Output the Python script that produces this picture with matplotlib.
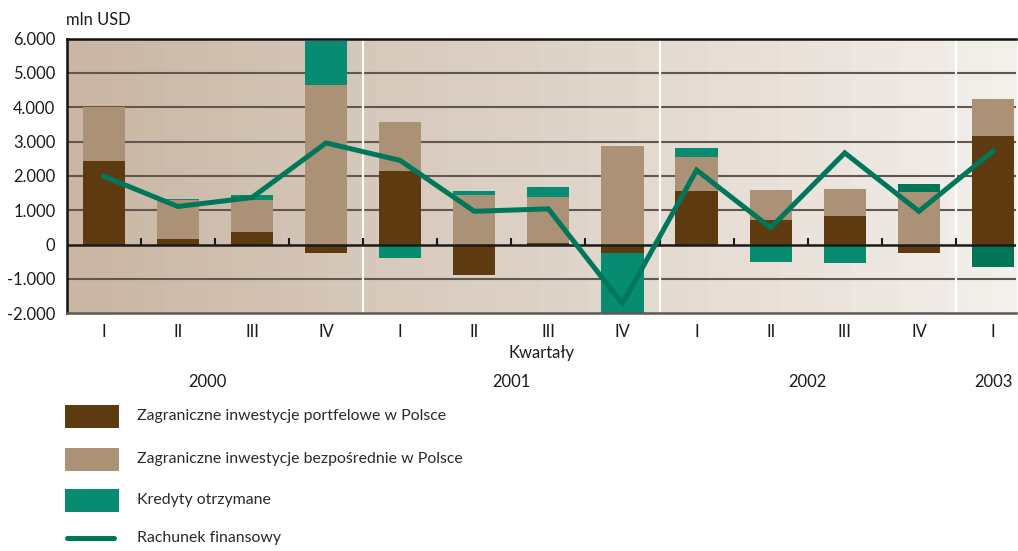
import numpy as np
import matplotlib
matplotlib.use("Agg")
import matplotlib.pyplot as plt
from matplotlib.patches import Rectangle
from matplotlib.lines import Line2D
import matplotlib.transforms as mtransforms

plt.rcParams["font.family"] = ["Lato", "DejaVu Sans"]

# dane (mln USD)
kwartaly = ["I", "II", "III", "IV", "I", "II", "III", "IV", "I", "II", "III", "IV", "I"]
lata = ["2000", "2001", "2002", "2003"]
lata_x = [1.4, 5.5, 9.5, 12.0]
portfelowe = [2420, 150, 380, -230, 2130, -880, 60, -230, 1550, 730, 820, -250, 3150]
bezposrednie = [1580, 1160, 930, 4640, 1430, 1430, 1340, 2860, 990, 870, 810, 1520, 1080]
kredyty = [-20, 30, 120, 1280, -400, 140, 290, -1900, 260, -520, -550, 230, -660]
rachunek = [1990, 1110, 1370, 2960, 2450, 970, 1040, -1720, 2170, 490, 2670, 970, 2720]

C_PORT = "#5e3a11"
C_BEZP = "#ab9175"
C_KRED = "#078c72"
C_KRED2 = "#007656"
C_LINIA = "#00765a"
C_TXT = "#1e1b1a"
FS = 11.9

fig = plt.figure(figsize=(10.18, 5.51), dpi=100)
ax = fig.add_axes([0.0655, 0.4314, 0.9325, 0.4987])
x = np.arange(len(kwartaly))
ax.set_xlim(-0.5, 12.31)
ax.set_ylim(-2000, 6000)

# tlo z gradientem (pasy)
n = 40
grad = np.linspace(0, 1, n).reshape(1, -1)
c0 = np.array([0xc9, 0xb6, 0xa4]) / 255
c1 = np.array([0xf3, 0xef, 0xeb]) / 255
img = c0[None, None, :] * (1 - grad[..., None]) + c1[None, None, :] * grad[..., None]
ax.imshow(img, extent=(-0.5, 12.31, -2000, 6000), aspect="auto", zorder=0,
          interpolation="nearest")

for yv in range(-1000, 6001, 1000):
    if yv != 0:
        ax.axhline(yv, color="#62574f", lw=1.5, zorder=1)
for xs in [3.5, 7.5, 11.5]:
    ax.axvline(xs, color="white", lw=1.6, zorder=1)

# slupki skumulowane osobno dla dodatnich i ujemnych
w = 0.57
pos = np.zeros(len(x))
neg = np.zeros(len(x))
kolory_kred = [C_KRED] * 11 + [C_KRED2, C_KRED2]
for vals, cols in [(portfelowe, [C_PORT] * len(x)), (bezposrednie, [C_BEZP] * len(x)),
                   (kredyty, kolory_kred)]:
    v = np.array(vals, dtype=float)
    base = np.where(v >= 0, pos, neg)
    ax.bar(x, v, w, bottom=base, color=cols, zorder=2, linewidth=0)
    pos = pos + np.where(v >= 0, v, 0)
    neg = neg + np.where(v < 0, v, 0)

ax.axhline(0, color="#1a1a1a", lw=1.8, zorder=3)
ax.vlines(x[:-1] + 0.5, 0, 200, color="#1a1a1a", lw=1.5, zorder=3)

ax.plot(x, rachunek, color=C_LINIA, lw=3.6, zorder=4, solid_joinstyle="miter")

ax.set_yticks(range(-2000, 6001, 1000))
ax.set_yticklabels([f"{v:,}".replace(",", ".") for v in range(-2000, 6001, 1000)])
ax.set_xticks(x)
ax.set_xticklabels(kwartaly)
ax.tick_params(axis="both", length=0, labelsize=FS, colors=C_TXT)
ax.tick_params(axis="y", pad=8)
ax.tick_params(axis="x", pad=8)
ax.spines["right"].set_visible(False)
ax.spines["top"].set_color("#111111")
ax.spines["top"].set_linewidth(1.8)
ax.spines["left"].set_color("#111111")
ax.spines["left"].set_linewidth(1.8)
ax.spines["bottom"].set_color("#62574f")
ax.spines["bottom"].set_linewidth(1.8)

tr = mtransforms.blended_transform_factory(ax.transData, ax.transAxes)
ax.text(0.5, -0.144, "Kwartały", transform=ax.transAxes, ha="center", va="center",
        fontsize=FS, color=C_TXT)
for lx, rok in zip(lata_x, lata):
    ax.text(lx, -0.25, rok, transform=tr, ha="center", va="center",
            fontsize=FS, color=C_TXT)

fig.text(66 / 1018, 1 - 20 / 551, "mln USD", ha="left", va="center",
         fontsize=FS, color=C_TXT)

# legenda
lg = fig.add_axes([0, 0, 1, 1], facecolor="none")
lg.set_xlim(0, 1018)
lg.set_ylim(551, 0)
lg.axis("off")
wpisy = [
    ("Zagraniczne inwestycje portfelowe w Polsce", C_PORT, 416),
    ("Zagraniczne inwestycje bezpośrednie w Polsce", C_BEZP, 459),
    ("Kredyty otrzymane", C_KRED, 500),
]
for tekst, kol, yc in wpisy:
    lg.add_patch(Rectangle((65, yc - 11.5), 54, 23, color=kol, lw=0))
    lg.text(137, yc, tekst, ha="left", va="center", fontsize=11.4, color="#2a2a2a")
lg.add_line(Line2D([67, 114], [538, 538], color=C_LINIA, lw=3.6, solid_capstyle="round"))
lg.text(137, 538, "Rachunek finansowy", ha="left", va="center", fontsize=11.4, color="#2a2a2a")

fig.savefig("out.png", dpi=100)
